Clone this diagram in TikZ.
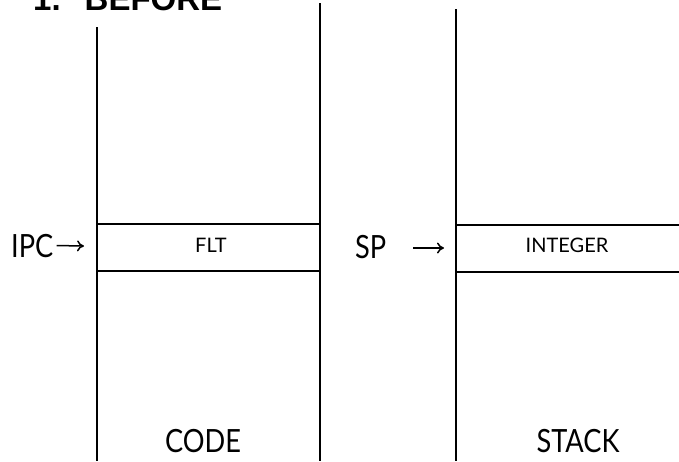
\documentclass[tikz,border=0pt]{standalone}
\usepackage{fontspec}
\setmainfont{Lato}
\newfontfamily\labelfont{Lato}[FakeStretch=0.85]
\newfontfamily\titlefont{Liberation Sans}
\usetikzlibrary{arrows.meta}
\begin{document}
\begin{tikzpicture}[x=1pt,y=-1pt,
  wall/.style={line width=1.4pt},
  slot/.style={line width=2pt},
  lbl/.style={font=\labelfont\fontsize{32}{34}\selectfont, inner sep=0pt},
  cell/.style={font=\fontsize{20}{22}\selectfont, inner sep=0pt},
  ptr/.style={line width=1.5pt, -{To[length=7pt,width=11pt]}}]
\useasboundingbox (0,0) rectangle (679,461);
\node[anchor=base west, inner sep=0pt, font=\titlefont\bfseries\fontsize{33}{36}\selectfont] (title) at (33,10) {1.\hspace{24pt}BEFORE};
% code column
\coordinate (c1t) at (97,27);   \coordinate (c1b) at (97,461);
\coordinate (c2t) at (320,3);   \coordinate (c2b) at (320,461);
\draw[wall] (c1t) -- (c1b);
\draw[wall] (c2t) -- (c2b);
\coordinate (f1) at (97,224); \coordinate (f2) at (320,224);
\coordinate (f3) at (97,271); \coordinate (f4) at (320,271);
\draw[slot] (f1) -- (f2);
\draw[slot] (f3) -- (f4);
\node[cell] (flt) at (211,245) {FLT};
% stack column
\coordinate (s1t) at (456,9); \coordinate (s1b) at (456,461);
\draw[wall] (s1t) -- (s1b);
\coordinate (g1) at (456,225); \coordinate (g2) at (679,225);
\coordinate (g3) at (456,272); \coordinate (g4) at (679,272);
\draw[slot] (g1) -- (g2);
\draw[slot] (g3) -- (g4);
\node[cell] (int) at (567,245) {INTEGER};
% pointers
\node[lbl, anchor=base west] (ipc) at (11,257) {IPC};
\coordinate (ipctip) at (84,246);
\draw[ptr] ([xshift=3pt]ipc.east) -- (ipctip);
\node[lbl, anchor=base west] (sp) at (355,258) {SP};
\coordinate (spstart) at (413,248);
\coordinate (sptip) at (444,248);
\draw[ptr] (spstart) -- (sptip);
% captions
\node[lbl, anchor=base] (code) at (203,452) {CODE};
\node[lbl, anchor=base] (stack) at (578,452) {STACK};
\end{tikzpicture}
\end{document}
